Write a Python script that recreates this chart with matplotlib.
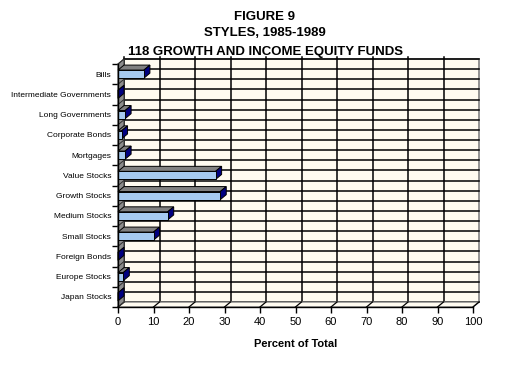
import numpy as np
import matplotlib.pyplot as plt
from matplotlib.patches import Polygon, Rectangle

plt.rcParams['font.family'] = ['Liberation Sans', 'DejaVu Sans']

categories = ["Bills", "Intermediate Governments", "Long Governments", "Corporate Bonds",
              "Mortgages", "Value Stocks", "Growth Stocks", "Medium Stocks",
              "Small Stocks", "Foreign Bonds", "Europe Stocks", "Japan Stocks"]
percent = [7.3, 0.0, 2.0, 1.0, 2.0, 27.5, 28.8, 14.0, 10.0, 0.0, 1.5, 0.0]
x_ticks = [0, 10, 20, 30, 40, 50, 60, 70, 80, 90, 100]

title_lines = ["FIGURE 9", "STYLES, 1985-1989", "118 GROWTH AND INCOME EQUITY FUNDS"]

# colours of the old spreadsheet 3-D look
wall = "#fffbf0"
front_col = "#a6caf0"
top_col = "#808080"
side_col = "#000080"

W, H = 505, 383
fig = plt.figure(figsize=(W / 100, H / 100), dpi=100)
# front plane of the 3-D box
ax = fig.add_axes([118 / W, 76 / H, 355 / W, 243 / H])
ax.patch.set_visible(False)

n = len(categories)
ypos = np.arange(n)
ax.set_xlim(0, 100)
ax.set_ylim(n - 0.5, -0.5)

# depth of the box, in data units (about 6 px right, 5 px up)
DX = 6 * 100 / 355
DY = 5 * n / 243
h = 0.4

y_top, y_bot = -0.5, n - 0.5

# back wall
ax.add_patch(Polygon([(DX, y_top - DY), (100 + DX, y_top - DY), (100 + DX, y_bot - DY), (DX, y_bot - DY)],
                     closed=True, facecolor=wall, edgecolor="#808080", lw=1.2, zorder=0, clip_on=False))
for k in np.arange(y_top, y_bot + 0.01, 0.5):
    ax.plot([DX, 100 + DX], [k - DY, k - DY], color="black", lw=1.1, zorder=1, clip_on=False)
for xv in x_ticks[:-1]:
    ax.plot([xv + DX, xv + DX], [y_top - DY - 0.08, y_bot - DY], color="black", lw=1.1, zorder=1, clip_on=False)

# floor
ax.add_patch(Polygon([(0, y_bot), (100, y_bot), (100 + DX, y_bot - DY), (DX, y_bot - DY)],
                     closed=True, facecolor=wall, edgecolor="#808080", lw=1, zorder=1.5, clip_on=False))
for xv in x_ticks:
    ax.plot([xv, xv + DX], [y_bot, y_bot - DY], color="black", lw=0.9, zorder=1.6, clip_on=False)

# left side wall
ax.add_patch(Polygon([(0, y_top), (DX, y_top - DY), (DX, y_bot - DY), (0, y_bot)],
                     closed=True, facecolor="#8c8c8c", edgecolor="#404040", lw=0.8, zorder=2, clip_on=False))
for k in np.arange(y_top, y_bot + 0.01, 1.0):
    ax.plot([0, DX], [k, k - DY], color="#303030", lw=0.7, zorder=2.1, clip_on=False)

# bars
for y, v in zip(ypos, percent):
    yt = y - h / 2
    yb = y + h / 2
    ax.add_patch(Polygon([(0, yt), (v, yt), (v + DX, yt - DY), (DX, yt - DY)], closed=True,
                         facecolor=top_col, edgecolor="black", lw=0.7, zorder=3, clip_on=False))
    ax.add_patch(Polygon([(v, yt), (v + DX, yt - DY), (v + DX, yb - DY), (v, yb)], closed=True,
                         facecolor=side_col, edgecolor="black", lw=0.7, zorder=3, clip_on=False))
ax.barh(ypos, percent, height=h, color=front_col, edgecolor="black", lw=0.7, zorder=3.5)

# axes
for s in ["top", "right"]:
    ax.spines[s].set_visible(False)
ax.spines["left"].set_linewidth(1)
ax.spines["bottom"].set_linewidth(1)
ax.spines["left"].set_zorder(4)
ax.spines["bottom"].set_zorder(4)

ax.set_xticks(x_ticks)
ax.set_xticklabels([str(t) for t in x_ticks], fontsize=8)
ax.tick_params(axis="x", direction="out", length=4, width=1, pad=3)

ax.set_yticks(np.arange(y_top, y_bot + 0.01, 1.0))
ax.set_yticklabels([])
ax.tick_params(axis="y", which="major", direction="out", length=4, width=1)
ax.set_yticks(ypos, minor=True)
ax.set_yticklabels(categories, minor=True, fontsize=6)
ax.tick_params(axis="y", which="minor", length=0, pad=5)

fig.text(296 / W, 1 - 344 / H, "Percent of Total", ha="center", va="center", fontsize=8, fontweight="bold")

for line, yc in zip(title_lines, [16.5, 33.5, 51.5]):
    fig.text(265 / W, 1 - yc / H, line, ha="center", va="center", fontsize=9.5, fontweight="bold")

fig.savefig("out.png", dpi=100)
